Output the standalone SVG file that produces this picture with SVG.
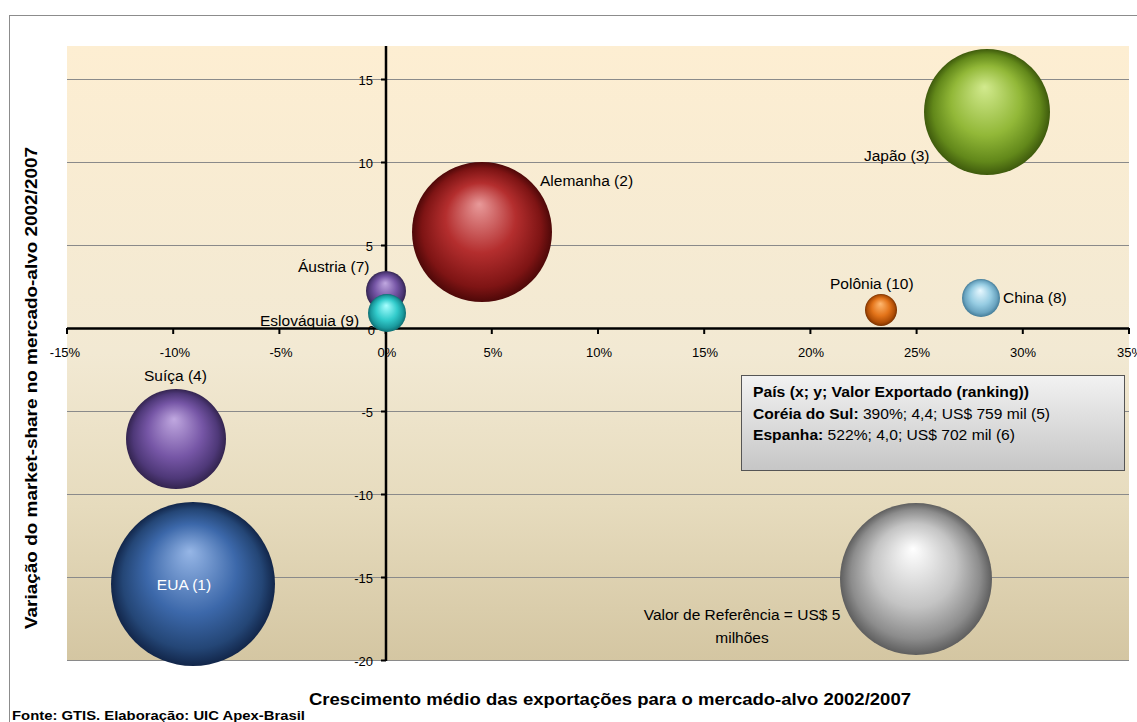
<svg xmlns="http://www.w3.org/2000/svg" width="1137" height="722" viewBox="0 0 1137 722">
<style>
text{font-family:"Liberation Sans",Arial,sans-serif;fill:#000}
.tick{font-size:13px}
.lbl{font-size:15.5px}
.grid{stroke:#8a8a8a;stroke-width:1}
.axis{stroke:#000;stroke-width:2.5}
.tk{stroke:#000;stroke-width:2}
.title{font-size:17px;font-weight:bold}
.lg{font-size:15px}
.b{font-weight:bold}
</style>
<defs>
<linearGradient id="bg" x1="0" y1="0" x2="0" y2="1">
<stop offset="0" stop-color="#FDEED2"/>
<stop offset="0.5" stop-color="#F2E9D3"/>
<stop offset="0.75" stop-color="#E6DBBD"/>
<stop offset="1" stop-color="#D4C6A2"/>
</linearGradient>
<linearGradient id="lgbg" x1="0" y1="0" x2="0" y2="1">
<stop offset="0" stop-color="#F2F2F2"/>
<stop offset="1" stop-color="#C6C6C6"/>
</linearGradient>
<radialGradient id="gGreen" cx="0.5" cy="0.5" r="0.5" fx="0.48" fy="0.3"><stop offset="0" stop-color="#D2EA8E"/><stop offset="0.55" stop-color="#92B838"/><stop offset="0.85" stop-color="#62881A"/><stop offset="1" stop-color="#3E5A0C"/></radialGradient>
<radialGradient id="gRed" cx="0.5" cy="0.5" r="0.5" fx="0.48" fy="0.3"><stop offset="0" stop-color="#E89A9A"/><stop offset="0.5" stop-color="#B42E2E"/><stop offset="0.85" stop-color="#7E1414"/><stop offset="1" stop-color="#4E0808"/></radialGradient>
<radialGradient id="gPurple" cx="0.5" cy="0.5" r="0.5" fx="0.48" fy="0.3"><stop offset="0" stop-color="#C0A8E0"/><stop offset="0.55" stop-color="#7656A6"/><stop offset="0.85" stop-color="#4E3878"/><stop offset="1" stop-color="#33244F"/></radialGradient>
<radialGradient id="gCyan" cx="0.5" cy="0.5" r="0.5" fx="0.48" fy="0.3"><stop offset="0" stop-color="#A8FFFF"/><stop offset="0.55" stop-color="#33CCCC"/><stop offset="0.85" stop-color="#1A9A9E"/><stop offset="1" stop-color="#0E6E72"/></radialGradient>
<radialGradient id="gOrange" cx="0.5" cy="0.5" r="0.5" fx="0.48" fy="0.3"><stop offset="0" stop-color="#FFB870"/><stop offset="0.55" stop-color="#E3741A"/><stop offset="0.85" stop-color="#B04E06"/><stop offset="1" stop-color="#7A3200"/></radialGradient>
<radialGradient id="gLBlue" cx="0.5" cy="0.5" r="0.5" fx="0.48" fy="0.3"><stop offset="0" stop-color="#E8F8FF"/><stop offset="0.55" stop-color="#96CCE2"/><stop offset="0.85" stop-color="#6AA4C0"/><stop offset="1" stop-color="#447C98"/></radialGradient>
<radialGradient id="gBlue" cx="0.5" cy="0.5" r="0.5" fx="0.48" fy="0.3"><stop offset="0" stop-color="#96B6E6"/><stop offset="0.55" stop-color="#3C68AA"/><stop offset="0.85" stop-color="#244676"/><stop offset="1" stop-color="#12264A"/></radialGradient>
<radialGradient id="gSilver" cx="0.5" cy="0.5" r="0.5" fx="0.48" fy="0.3"><stop offset="0" stop-color="#FFFFFF"/><stop offset="0.55" stop-color="#C4C4C4"/><stop offset="0.85" stop-color="#8C8C8C"/><stop offset="1" stop-color="#5E5E5E"/></radialGradient>
</defs>
<rect x="0" y="0" width="1137" height="722" fill="#fff"/>
<rect x="9.5" y="15.5" width="1200" height="800" fill="#fff" stroke="#8c8c8c" stroke-width="1"/>
<g id="plot-area">
<rect x="67" y="46" width="1062" height="614.5" fill="url(#bg)"/>
<line class="grid" x1="67" y1="79.5" x2="1129" y2="79.5"/>
<line class="grid" x1="67" y1="162.5" x2="1129" y2="162.5"/>
<line class="grid" x1="67" y1="245.5" x2="1129" y2="245.5"/>
<line class="grid" x1="67" y1="411.5" x2="1129" y2="411.5"/>
<line class="grid" x1="67" y1="494.5" x2="1129" y2="494.5"/>
<line class="grid" x1="67" y1="577.5" x2="1129" y2="577.5"/>
<line class="grid" x1="67" y1="660.5" x2="1129" y2="660.5"/>
</g>
<g id="axes">
<line class="axis" x1="67" y1="328.5" x2="1129" y2="328.5"/>
<line class="axis" x1="386" y1="46" x2="386" y2="661"/>
<g class="tk">
<line x1="67" y1="328" x2="67" y2="334"/><line x1="173.2" y1="328" x2="173.2" y2="334"/><line x1="279.4" y1="328" x2="279.4" y2="334"/><line x1="385.6" y1="328" x2="385.6" y2="334"/><line x1="491.8" y1="328" x2="491.8" y2="334"/><line x1="598" y1="328" x2="598" y2="334"/><line x1="704.2" y1="328" x2="704.2" y2="334"/><line x1="810.4" y1="328" x2="810.4" y2="334"/><line x1="916.6" y1="328" x2="916.6" y2="334"/><line x1="1022.8" y1="328" x2="1022.8" y2="334"/><line x1="1129" y1="328" x2="1129" y2="334"/>
<line x1="381" y1="79.5" x2="386" y2="79.5"/><line x1="381" y1="162.5" x2="386" y2="162.5"/><line x1="381" y1="245.5" x2="386" y2="245.5"/><line x1="381" y1="411.5" x2="386" y2="411.5"/><line x1="381" y1="494.5" x2="386" y2="494.5"/><line x1="381" y1="577.5" x2="386" y2="577.5"/><line x1="381" y1="660.5" x2="386" y2="660.5"/>
</g>
<g class="tick" text-anchor="middle">
<text x="65" y="357">-15%</text><text x="175" y="357">-10%</text><text x="281" y="357">-5%</text><text x="387" y="357">0%</text><text x="493" y="357">5%</text><text x="599" y="357">10%</text><text x="705" y="357">15%</text><text x="811" y="357">20%</text><text x="917" y="357">25%</text><text x="1023" y="357">30%</text><text x="1130" y="357">35%</text>
</g>
<g class="tick" text-anchor="end">
<text x="373" y="85">15</text><text x="373" y="168">10</text><text x="373" y="251">5</text><text x="375" y="335">0</text><text x="373" y="417">-5</text><text x="373" y="500">-10</text><text x="373" y="583">-15</text><text x="373" y="666">-20</text>
</g>
</g>
<g id="bubble-japao"><circle cx="987" cy="112" r="63" fill="url(#gGreen)"/><text class="lbl" x="864" y="161">Japão (3)</text></g>
<g id="bubble-alemanha"><circle cx="482" cy="232" r="70" fill="url(#gRed)"/><text class="lbl" x="540" y="186">Alemanha (2)</text></g>
<g id="bubble-austria"><circle cx="386" cy="291" r="20" fill="url(#gPurple)"/><text class="lbl" x="298" y="272">Áustria (7)</text></g>
<g id="bubble-eslovaquia"><circle cx="387" cy="313" r="19" fill="url(#gCyan)"/><text class="lbl" x="260" y="326">Eslováquia (9)</text></g>
<g id="bubble-polonia"><circle cx="881" cy="310" r="16" fill="url(#gOrange)"/><text class="lbl" x="830" y="289">Polônia (10)</text></g>
<g id="bubble-china"><circle cx="981" cy="298" r="19" fill="url(#gLBlue)"/><text class="lbl" x="1003" y="303">China (8)</text></g>
<g id="bubble-suica"><circle cx="176" cy="439" r="50" fill="url(#gPurple)"/><text class="lbl" x="144" y="381">Suíça (4)</text></g>
<g id="bubble-eua"><circle cx="193" cy="584" r="82" fill="url(#gBlue)"/><text class="lbl" x="184" y="590" text-anchor="middle" style="fill:#fff">EUA (1)</text></g>
<g id="bubble-referencia"><circle cx="916" cy="579" r="76" fill="url(#gSilver)"/><text class="lbl" x="742" y="620" text-anchor="middle">Valor de Referência = US$ 5</text><text class="lbl" x="742" y="643" text-anchor="middle">milhões</text></g>
<g id="legend-box">
<rect x="741.5" y="375.5" width="383" height="95" fill="url(#lgbg)" stroke="#555" stroke-width="1"/>
<text class="lg b" x="753" y="397" textLength="276" lengthAdjust="spacingAndGlyphs">País (x; y; Valor Exportado (ranking))</text>
<text class="lg" x="753" y="419" textLength="297" lengthAdjust="spacingAndGlyphs"><tspan class="b">Coréia do Sul:</tspan> 390%; 4,4; US$ 759 mil (5)</text>
<text class="lg" x="753" y="440" textLength="262" lengthAdjust="spacingAndGlyphs"><tspan class="b">Espanha:</tspan> 522%; 4,0;  US$ 702 mil (6)</text>
</g>
<g id="titles">
<text class="title" x="610" y="705" text-anchor="middle" textLength="602" lengthAdjust="spacingAndGlyphs">Crescimento médio das exportações para o mercado-alvo 2002/2007</text>
<text class="title" transform="translate(37,388) rotate(-90)" text-anchor="middle" textLength="482" lengthAdjust="spacingAndGlyphs">Variação do market-share no mercado-alvo 2002/2007</text>
<text x="12" y="720" style="font-size:12.5px;font-weight:bold" textLength="293" lengthAdjust="spacingAndGlyphs">Fonte: GTIS. Elaboração:  UIC  Apex-Brasil</text>
</g>
</svg>
